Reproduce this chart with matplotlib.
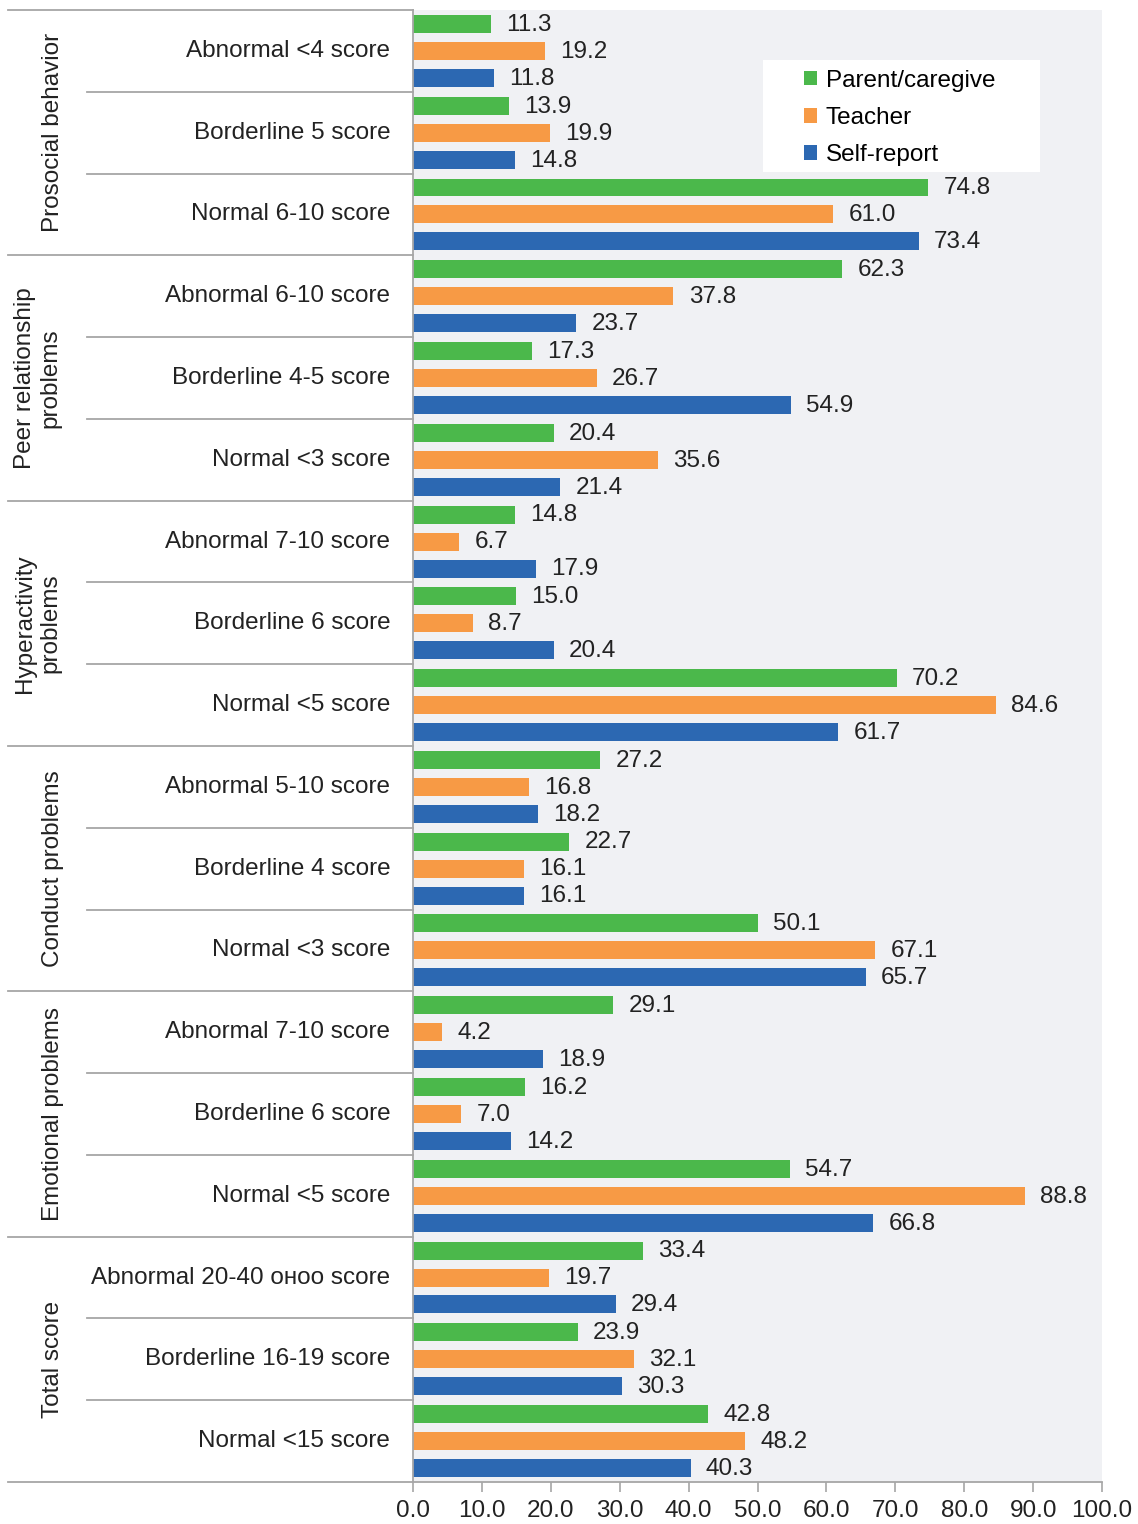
import matplotlib.pyplot as plt
from matplotlib.patches import Rectangle
import numpy as np

plt.rcParams['font.family'] = ['Liberation Sans', 'DejaVu Sans']

groups = ["Prosocial behavior", "Peer relationship\nproblems", "Hyperactivity\nproblems",
          "Conduct problems", "Emotional problems", "Total score"]
categories = [
    "Abnormal <4 score", "Borderline 5 score", "Normal 6-10 score",
    "Abnormal 6-10 score", "Borderline 4-5 score", "Normal <3 score",
    "Abnormal 7-10 score", "Borderline 6 score", "Normal <5 score",
    "Abnormal 5-10 score", "Borderline 4 score", "Normal <3 score",
    "Abnormal 7-10 score", "Borderline 6 score", "Normal <5 score",
    "Abnormal 20-40 онoo score", "Borderline 16-19 score", "Normal <15 score",
]
parent = [11.3, 13.9, 74.8, 62.3, 17.3, 20.4, 14.8, 15.0, 70.2,
          27.2, 22.7, 50.1, 29.1, 16.2, 54.7, 33.4, 23.9, 42.8]
teacher = [19.2, 19.9, 61.0, 37.8, 26.7, 35.6, 6.7, 8.7, 84.6,
           16.8, 16.1, 67.1, 4.2, 7.0, 88.8, 19.7, 32.1, 48.2]
selfrep = [11.8, 14.8, 73.4, 23.7, 54.9, 21.4, 17.9, 20.4, 61.7,
           18.2, 16.1, 65.7, 18.9, 14.2, 66.8, 29.4, 30.3, 40.3]
series_names = ["Parent/caregive", "Teacher", "Self-report"]
colors = ["#4BB84B", "#F79A45", "#2C68B2"]

fs = 17.5
tc = "#222222"

fig = plt.figure(figsize=(11.38, 15.24), dpi=100)
ax = fig.add_axes([0.3629, 0.0276, 0.6055, 0.9658])
ax.set_facecolor("#F0F1F4")

y = np.arange(len(categories))
offs = [-0.33, 0.0, 0.33]
for vals, off, col, name in zip([parent, teacher, selfrep], offs, colors, series_names):
    ax.barh(y + off, vals, height=0.22, color=col, label=name)
    for yi, v in zip(y, vals):
        ax.text(v + 2.2, yi + off + 0.01, "%.1f" % v, va="center", ha="left",
                fontsize=fs, color=tc)

ax.set_xlim(0, 100)
ax.set_ylim(17.5, -0.5)
ax.set_xticks(np.arange(0, 101, 10))
ax.set_xticklabels(["%.1f" % t for t in np.arange(0, 101, 10)], fontsize=fs, color=tc)
ax.set_yticks([])
ax.tick_params(axis="x", direction="out", length=7, color="#A6A6A6", width=1.2, pad=6)
for s in ["top", "right"]:
    ax.spines[s].set_visible(False)
ax.spines["left"].set_color("#A6A6A6")
ax.spines["bottom"].set_color("#A6A6A6")
ax.spines["left"].set_linewidth(1.3)
ax.spines["bottom"].set_linewidth(1.3)

trans = ax.get_yaxis_transform()
# category labels
for yi, c in zip(y, categories):
    ax.text(-0.033, yi, c, transform=trans, ha="right", va="center", fontsize=fs, color=tc)

# separator lines
for k in range(len(categories) + 1):
    yb = k - 0.5
    x0 = -0.588 if k % 3 == 0 else -0.473
    ax.plot([x0, 0], [yb, yb], transform=trans, color="#A6A6A6", lw=1.3, clip_on=False)

# group labels
for g, name in enumerate(groups):
    xg = -0.545 if "\n" in name else -0.522
    ax.text(xg, 3 * g + 1, name, transform=trans, rotation=90, ha="center", va="center",
            fontsize=fs, color=tc, linespacing=1.2)

# legend box
ax.add_patch(Rectangle((0.508, 0.89), 0.402, 0.076, transform=ax.transAxes,
                       facecolor="white", edgecolor="none", zorder=3))
leg = ax.legend(loc="upper left", bbox_to_anchor=(0.567, 0.9595), fontsize=fs, frameon=False,
                handlelength=0.55, handleheight=0.55, handletextpad=0.35, borderpad=0,
                labelspacing=0.63, borderaxespad=0)
leg.set_zorder(4)

fig.savefig("out.png", dpi=100)
